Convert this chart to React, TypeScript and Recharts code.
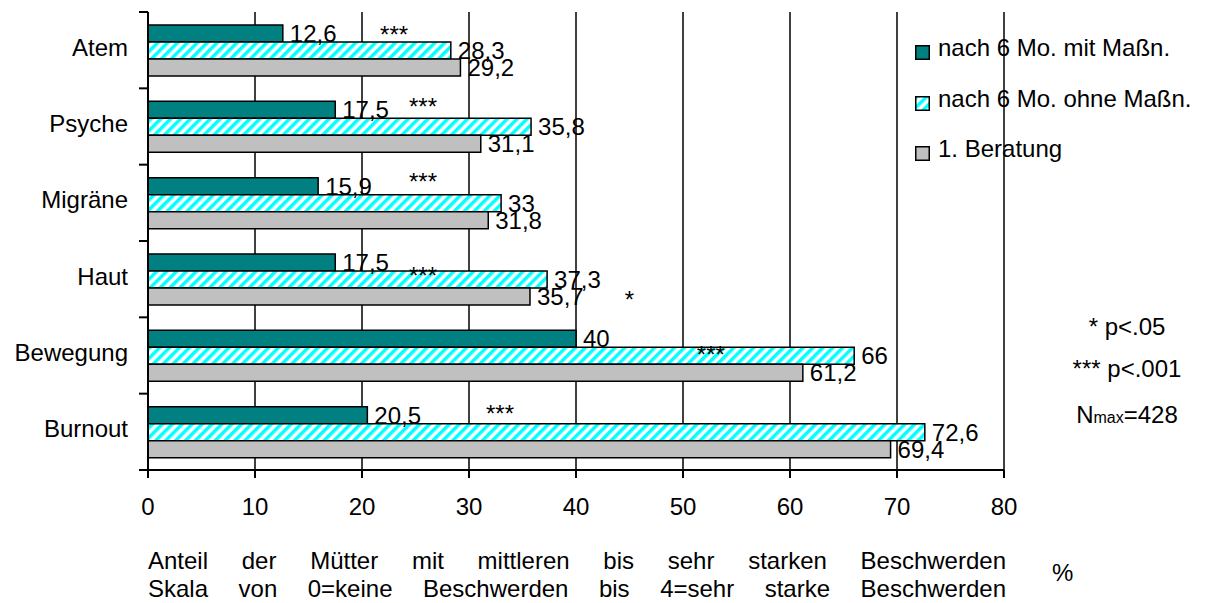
import React from 'react';
import { BarChart, Bar, XAxis, YAxis, CartesianGrid, LabelList, Legend, ReferenceDot } from 'recharts';

const categories = ['Atem', 'Psyche', 'Migräne', 'Haut', 'Bewegung', 'Burnout'];
const mitMassnahmen = [12.6, 17.5, 15.9, 17.5, 40, 20.5];
const ohneMassnahmen = [28.3, 35.8, 33, 37.3, 66, 72.6];
const ersteBeratung = [29.2, 31.1, 31.8, 35.7, 61.2, 69.4];
const seriesNames = ['nach 6 Mo. mit Maßn.', 'nach 6 Mo. ohne Maßn.', '1. Beratung'];
const xTicks = [0, 10, 20, 30, 40, 50, 60, 70, 80];

// significance stars: category, x value they sit at, text
const markerCats = ['Atem', 'Psyche', 'Migräne', 'Haut', 'Haut', 'Bewegung', 'Burnout'];
const markerValues = [23, 25.7, 25.7, 25.7, 45, 52.6, 32.9];
const markerTexts = ['***', '***', '***', '***', '*', '***', '***'];
// vertical nudge (px) from the category centre
const markerNudge = [-21, -25.5, -27, -9, 15, -6.5, -24];

const data = categories.map((name, i) => ({
  name,
  mit: mitMassnahmen[i],
  ohne: ohneMassnahmen[i],
  erste: ersteBeratung[i],
}));

const W = 1228;
const H = 603;
const MARGIN = { top: 12, right: 224, bottom: 93, left: 0 };
const X_AXIS_H = 40;
const Y_AXIS_W = 148;
const BAND = (H - MARGIN.top - MARGIN.bottom - X_AXIS_H) / categories.length;
const FONT = 'Arial, "Liberation Sans", sans-serif';

const fmt = (v: any) => String(v).replace('.', ',');

const CategoryTick = (props: any) => {
  const { x, y, payload, index } = props;
  const top = y - BAND / 2;
  return (
    <g>
      <text x={x} y={y} dy={5.6} textAnchor="end" fontSize={24} fill="#000" fontFamily={FONT}>
        {payload.value}
      </text>
      <line x1={Y_AXIS_W - 9} x2={Y_AXIS_W} y1={top} y2={top} stroke="#000" strokeWidth={2} />
      {index === categories.length - 1 && (
        <line x1={Y_AXIS_W - 9} x2={Y_AXIS_W} y1={y + BAND / 2} y2={y + BAND / 2} stroke="#000" strokeWidth={2} />
      )}
    </g>
  );
};

const LegendBox = (props: any) => {
  const items = [...(props.payload || [])].sort(
    (a: any, b: any) => seriesNames.indexOf(a.value) - seriesNames.indexOf(b.value)
  );
  return (
    <div style={{ position: 'absolute', left: 915, top: 34, fontFamily: FONT, fontSize: 24, color: '#000' }}>
      {items.map((entry: any) => (
        <div key={entry.value} style={{ position: 'relative', height: 50.5, width: 300 }}>
          <svg width={15} height={15} style={{ position: 'absolute', left: 0, top: 11 }}>
            <rect x={0.75} y={0.75} width={13.5} height={13.5} fill={entry.color} stroke="#000" strokeWidth={1.5} />
          </svg>
          <span style={{ position: 'absolute', left: 23, top: 0, lineHeight: '28px', whiteSpace: 'nowrap' }}>
            {entry.value}
          </span>
        </div>
      ))}
    </div>
  );
};

const note: React.CSSProperties = {
  position: 'absolute',
  width: 160,
  left: 1047,
  textAlign: 'center',
  lineHeight: '28px',
  fontSize: 24,
  whiteSpace: 'nowrap',
};

export default function App() {
  return (
    <div style={{ position: 'relative', width: W, height: H, fontFamily: FONT, color: '#000', background: '#fff' }}>
      <style>{'body{margin:0}'}</style>
      <BarChart
        width={W}
        height={H}
        data={data}
        layout="vertical"
        margin={MARGIN}
        barCategoryGap="17%"
        barGap={0}
      >
        <defs>
          <pattern id="stripes" width="7" height="7" patternUnits="userSpaceOnUse" patternTransform="rotate(45)">
            <rect width="7" height="7" fill="#fff" />
            <rect width="3.5" height="7" fill="#00ffff" />
          </pattern>
        </defs>
        <CartesianGrid horizontal={false} stroke="#000" strokeWidth={1.5} />
        <XAxis
          type="number"
          domain={[0, 80]}
          ticks={xTicks}
          height={X_AXIS_H}
          tickSize={8}
          tickMargin={20}
          axisLine={{ stroke: '#000', strokeWidth: 2 }}
          tickLine={{ stroke: '#000', strokeWidth: 2 }}
          tick={{ fill: '#000', fontSize: 24, fontFamily: FONT }}
        />
        <XAxis
          xAxisId="top"
          orientation="top"
          type="number"
          domain={[0, 80]}
          height={0}
          tick={false}
          tickLine={false}
          axisLine={{ stroke: '#000', strokeWidth: 2 }}
        />
        <YAxis
          type="category"
          dataKey="name"
          width={Y_AXIS_W}
          tickSize={9}
          tickMargin={11}
          tickLine={false}
          axisLine={{ stroke: '#000', strokeWidth: 2 }}
          tick={<CategoryTick />}
          interval={0}
        />
        <Legend
          layout="vertical"
          align="center"
          verticalAlign="middle"
          wrapperStyle={{ top: 0, left: 0, width: 0, height: 0 }}
          content={<LegendBox />}
        />
        {markerCats.map((cat, i) => (
          <ReferenceDot
            key={i}
            x={markerValues[i]}
            y={cat}
            r={0}
            ifOverflow="visible"
            shape={(p: any) => (
              <text
                x={p.cx}
                y={p.cy + markerNudge[i] + 14}
                textAnchor="middle"
                fontSize={24}
                fontFamily={FONT}
                fill="#000"
              >
                {markerTexts[i]}
              </text>
            )}
          />
        ))}
        <Bar dataKey="mit" name={seriesNames[0]} fill="#008080" stroke="#000" strokeWidth={1.5} isAnimationActive={false}>
          <LabelList dataKey="mit" position="right" offset={7} formatter={fmt} fill="#000" fontSize={24} fontFamily={FONT} />
        </Bar>
        <Bar dataKey="ohne" name={seriesNames[1]} fill="url(#stripes)" stroke="#000" strokeWidth={1.5} isAnimationActive={false}>
          <LabelList dataKey="ohne" position="right" offset={7} formatter={fmt} fill="#000" fontSize={24} fontFamily={FONT} />
        </Bar>
        <Bar dataKey="erste" name={seriesNames[2]} fill="#c0c0c0" stroke="#000" strokeWidth={1.5} isAnimationActive={false}>
          <LabelList dataKey="erste" position="right" offset={7} formatter={fmt} fill="#000" fontSize={24} fontFamily={FONT} />
        </Bar>
      </BarChart>

      <div style={{ ...note, top: 313 }}>* p&lt;.05</div>
      <div style={{ ...note, top: 355 }}>*** p&lt;.001</div>
      <div style={{ ...note, top: 401 }}>
        N<span style={{ fontSize: 16 }}>max</span>=428
      </div>
      <div style={{ position: 'absolute', left: 1052, top: 559, fontSize: 24, lineHeight: '28px' }}>%</div>

      <div
        style={{
          position: 'absolute',
          left: 148,
          top: 547,
          width: 858,
          fontSize: 24,
          lineHeight: '28px',
        }}
      >
        <div style={{ textAlign: 'justify', textAlignLast: 'justify' }}>
          Anteil der Mütter mit mittleren bis sehr starken Beschwerden
        </div>
        <div style={{ textAlign: 'justify', textAlignLast: 'justify' }}>
          Skala von 0=keine Beschwerden bis 4=sehr starke Beschwerden
        </div>
      </div>
    </div>
  );
}
